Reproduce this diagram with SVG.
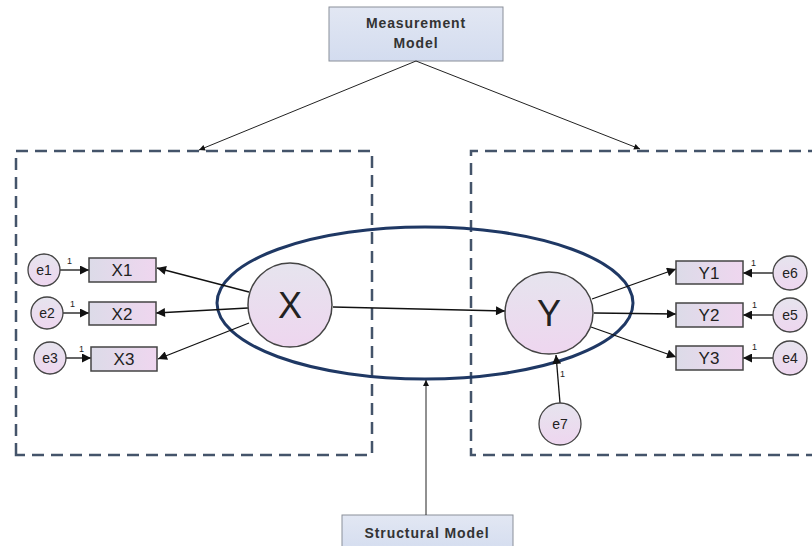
<svg xmlns="http://www.w3.org/2000/svg" width="812" height="546" viewBox="0 0 812 546">
<defs>
<linearGradient id="gc" x1="0" y1="0" x2="0" y2="1"><stop offset="0" stop-color="#e6e4ee"/><stop offset="1" stop-color="#eed6ef"/></linearGradient>
<linearGradient id="gb" x1="0" y1="0" x2="1" y2="0"><stop offset="0" stop-color="#dcdbe8"/><stop offset="1" stop-color="#efd6ef"/></linearGradient>
<linearGradient id="gl" x1="0" y1="0" x2="0" y2="1"><stop offset="0" stop-color="#e2e7f3"/><stop offset="1" stop-color="#d3dcef"/></linearGradient>
<marker id="ah" viewBox="0 0 10 10" refX="10" refY="5" markerWidth="7" markerHeight="6" orient="auto" markerUnits="userSpaceOnUse"><path d="M0,0 L10,5 L0,10 z" fill="#111"/></marker>
<marker id="ab" viewBox="0 0 10 10" refX="10" refY="5" markerWidth="14" markerHeight="9" orient="auto" markerUnits="userSpaceOnUse"><path d="M0,0 L10,5 L0,10 z" fill="#111"/></marker>
</defs>
<style>
.lbl{fill:url(#gl);stroke:#8a8f99;stroke-width:1}
.lt{font-family:"Liberation Sans",Arial,sans-serif;font-weight:bold;font-size:14px;letter-spacing:0.9px;fill:#333;text-anchor:middle}
.dash{fill:none;stroke:#44546a;stroke-width:2.5;stroke-dasharray:12 7}
.lat{fill:url(#gc);stroke:#444;stroke-width:1.5}
.obs{fill:url(#gb);stroke:#444;stroke-width:1.5}
.err{fill:url(#gc);stroke:#444;stroke-width:1.3}
.t{font-family:"Liberation Sans",Arial,sans-serif;fill:#222;text-anchor:middle}
.c{stroke:#111;stroke-width:1.3;fill:none;marker-end:url(#ab)}
.cs{stroke:#222;stroke-width:1;fill:none;marker-end:url(#ah)}
.one{font-family:"Liberation Sans",Arial,sans-serif;font-size:9px;fill:#222}
</style>
<rect width="812" height="546" fill="#fff"/>
<g id="boxes">
<path class="dash" d="M16,455 L16,151 L372,151 L372,455 Z"/>
<path class="dash" d="M820,151 L471,151 L471,455 L820,455"/>
</g>
<g id="structural-ellipse"><ellipse cx="425" cy="303" rx="208" ry="76" fill="none" stroke="#1f3864" stroke-width="3"/></g>
<g id="measurement-model"><rect class="lbl" x="329" y="7" width="174" height="54"/><text class="lt" x="416" y="28">Measurement</text><text class="lt" x="416" y="48">Model</text></g>
<g id="structural-model"><rect class="lbl" x="342" y="515" width="171" height="40"/><text class="lt" x="427" y="538">Structural Model</text></g>
<g id="connectors">
<line class="cs" x1="416" y1="61" x2="199" y2="150"/>
<line class="cs" x1="416" y1="61" x2="640" y2="149"/>
<line class="cs" x1="426" y1="515" x2="426" y2="380"/>
<line class="c" x1="333" y1="307" x2="505" y2="311"/>
<line class="c" x1="249" y1="292" x2="157" y2="268"/>
<line class="c" x1="248" y1="308" x2="156" y2="313"/>
<line class="c" x1="249" y1="323" x2="158" y2="359"/>
<line class="c" x1="60" y1="270" x2="89" y2="270"/>
<line class="c" x1="63" y1="313" x2="89" y2="313"/>
<line class="c" x1="66" y1="358" x2="91" y2="358"/>
<line class="c" x1="592" y1="299" x2="676" y2="269"/>
<line class="c" x1="594" y1="313" x2="676" y2="314"/>
<line class="c" x1="591" y1="327" x2="676" y2="357"/>
<line class="c" x1="773" y1="273" x2="743" y2="273"/>
<line class="c" x1="773" y1="315" x2="743" y2="315"/>
<line class="c" x1="773" y1="358" x2="743" y2="358"/>
<line class="c" x1="560" y1="403" x2="556" y2="355"/>
<text class="one" x="67" y="264">1</text>
<text class="one" x="70" y="307">1</text>
<text class="one" x="79" y="352">1</text>
<text class="one" x="751" y="266">1</text>
<text class="one" x="752" y="308">1</text>
<text class="one" x="752" y="350">1</text>
<text class="one" x="560" y="377">1</text>
</g>
<g id="X"><circle class="lat" cx="290" cy="305" r="42"/><text class="t" x="290" y="318" font-size="36">X</text></g>
<g id="Y"><ellipse class="lat" cx="549" cy="313" rx="44" ry="41"/><text class="t" x="549" y="326" font-size="36">Y</text></g>
<g id="X1"><rect class="obs" x="89" y="258" width="67" height="24"/><text class="t" x="122" y="276" font-size="17">X1</text></g>
<g id="X2"><rect class="obs" x="89" y="302" width="67" height="23"/><text class="t" x="122" y="320" font-size="17">X2</text></g>
<g id="X3"><rect class="obs" x="91" y="347" width="66" height="24"/><text class="t" x="124" y="365" font-size="17">X3</text></g>
<g id="Y1"><rect class="obs" x="676" y="261" width="67" height="23"/><text class="t" x="709" y="279" font-size="17">Y1</text></g>
<g id="Y2"><rect class="obs" x="676" y="303" width="67" height="24"/><text class="t" x="709" y="321" font-size="17">Y2</text></g>
<g id="Y3"><rect class="obs" x="676" y="346" width="67" height="24"/><text class="t" x="709" y="364" font-size="17">Y3</text></g>
<g id="e1"><circle class="err" cx="44" cy="270" r="16"/><text class="t" x="44" y="275" font-size="14">e1</text></g>
<g id="e2"><circle class="err" cx="47" cy="313" r="16"/><text class="t" x="47" y="318" font-size="14">e2</text></g>
<g id="e3"><circle class="err" cx="50" cy="358" r="16"/><text class="t" x="50" y="363" font-size="14">e3</text></g>
<g id="e6"><circle class="err" cx="790" cy="273" r="17"/><text class="t" x="790" y="278" font-size="14">e6</text></g>
<g id="e5"><circle class="err" cx="790" cy="315" r="17"/><text class="t" x="790" y="320" font-size="14">e5</text></g>
<g id="e4"><circle class="err" cx="790" cy="358" r="17"/><text class="t" x="790" y="363" font-size="14">e4</text></g>
<g id="e7"><circle class="err" cx="560" cy="424" r="21"/><text class="t" x="560" y="429" font-size="14">e7</text></g>
</svg>
